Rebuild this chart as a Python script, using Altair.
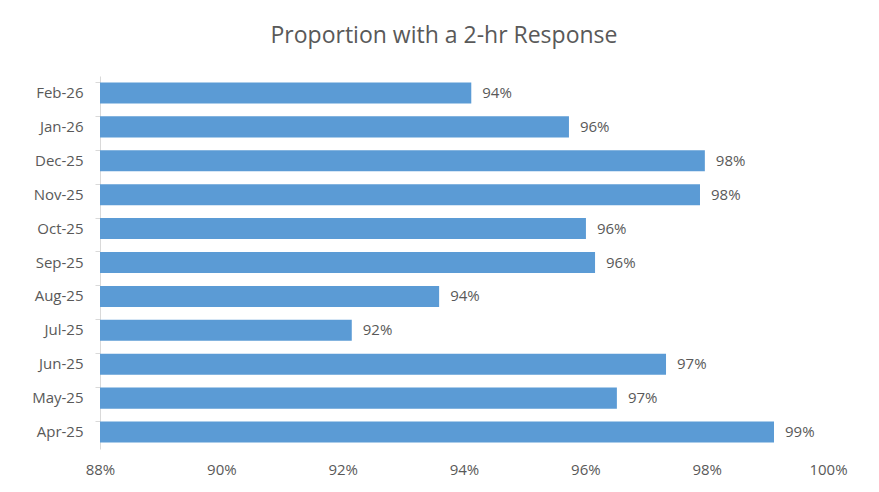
import altair as alt
import pandas as pd

months = ["Feb-26", "Jan-26", "Dec-25", "Nov-25", "Oct-25", "Sep-25",
          "Aug-25", "Jul-25", "Jun-25", "May-25", "Apr-25"]
values = [0.9412, 0.9573, 0.9797, 0.9789, 0.9601, 0.9616,
          0.9359, 0.9215, 0.9733, 0.9652, 0.9911]
x_ticks = [0.88, 0.90, 0.92, 0.94, 0.96, 0.98, 1.00]
base_value = 0.88

df = pd.DataFrame({"month": months, "value": values})

FONT = "Open Sans"
GREY = "#595959"

y_enc = alt.Y("month:N", sort=months, title=None,
              scale=alt.Scale(paddingInner=0.38, paddingOuter=0.19),
              axis=alt.Axis(domainColor="#D9D9D9", tickColor="#D9D9D9",
                            tickSize=5, bandPosition=0, labelPadding=12,
                            labelFontSize=15, labelColor=GREY, labelFont=FONT))
x_scale = alt.Scale(domain=[0.88, 1.0], nice=False, zero=False)

bars = alt.Chart(df).mark_bar(color="#5B9BD5").encode(
    x=alt.X("value:Q", scale=x_scale, title=None,
            axis=alt.Axis(values=x_ticks, format=".0%", domain=False, ticks=False,
                          grid=False, labelPadding=13, labelFontSize=15,
                          labelFlush=False,
                          labelColor=GREY, labelFont=FONT)),
    x2=alt.datum(base_value),
    y=y_enc,
)

labels = alt.Chart(df).mark_text(align="left", baseline="middle", dx=11,
                                 fontSize=15, color=GREY, font=FONT).encode(
    x=alt.X("value:Q", scale=x_scale),
    y=alt.Y("month:N", sort=months),
    text=alt.Text("value:Q", format=".0%"),
)

chart = alt.layer(bars, labels).properties(
    width=728, height=373,
    title=alt.TitleParams("Proportion with a 2-hr Response", fontSize=23,
                          fontWeight="normal", color=GREY, font=FONT,
                          anchor="middle", offset=28, dx=-20),
    autosize=alt.AutoSizeParams(type="none"),
    padding={"left": 100, "top": 76, "right": 51, "bottom": 43},
).configure_view(stroke=None)

chart.save("out.html", embed_options={"renderer": "svg", "actions": False})
